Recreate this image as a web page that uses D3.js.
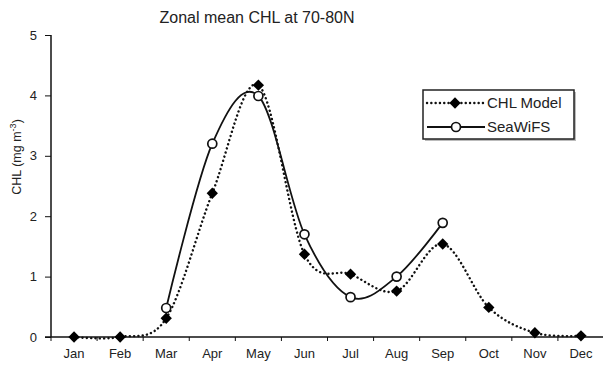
<!DOCTYPE html>
<html><head><meta charset="utf-8">
<script src="https://cdn.jsdelivr.net/npm/d3@7"></script>
<style>
html,body{margin:0;padding:0;background:#fff;}
svg{display:block;font-family:"Liberation Sans",Arial,sans-serif;}
</style></head>
<body>
<svg id="c" width="603" height="366"></svg>
<script>
const months = ["Jan","Feb","Mar","Apr","May","Jun","Jul","Aug","Sep","Oct","Nov","Dec"];
const chlModel = [0, 0, 0.31, 2.38, 4.17, 1.37, 1.04, 0.76, 1.54, 0.49, 0.07, 0.02];
const seaWiFS = [null, null, 0.48, 3.2, 3.99, 1.7, 0.66, 1.0, 1.89, null, null, null];
const yTicks = [0, 1, 2, 3, 4, 5];
const title = "Zonal mean CHL at 70-80N";
const seriesNames = ["CHL Model", "SeaWiFS"];

const svg = d3.select("#c");
const x = d3.scaleBand().domain(months).range([51, 604]);
const y = d3.scaleLinear().domain([0, 5]).range([337, 35]);

// title
svg.append("text").attr("x", 257).attr("y", 23).attr("text-anchor", "middle")
  .attr("font-size", 16).attr("fill", "#222").text(title);

// y axis
const yAxis = d3.axisLeft(y).tickValues(yTicks).tickSize(6).tickPadding(8).tickFormat(d3.format("d"));
const gy = svg.append("g").attr("transform", "translate(51,0)").call(yAxis);
gy.select(".domain").attr("stroke", "#111").attr("stroke-width", 1.5).attr("d", "M0,35V337");
gy.selectAll(".tick line").attr("stroke", "#111").attr("stroke-width", 1);
gy.selectAll(".tick text").attr("font-size", 13).attr("fill", "#222").attr("font-family", "Liberation Sans, Arial, sans-serif");

// x axis
const xAxis = d3.axisBottom(x).tickSize(0).tickPadding(12);
const gx = svg.append("g").attr("transform", "translate(0,337)").call(xAxis);
gx.select(".domain").attr("stroke", "#111").attr("stroke-width", 1.5).attr("d", "M45,0H603");
gx.selectAll(".tick text").attr("font-size", 13).attr("fill", "#222").attr("font-family", "Liberation Sans, Arial, sans-serif");
// band boundary ticks
gx.selectAll("line.bt").data(months).enter().append("line").attr("class", "bt")
  .attr("x1", d => x(d)).attr("x2", d => x(d)).attr("y1", 0).attr("y2", 4)
  .attr("stroke", "#111").attr("stroke-width", 1);

// y axis title
const yt = svg.append("text").attr("transform", "translate(21,157) rotate(-90)")
  .attr("text-anchor", "middle").attr("font-size", 12.5).attr("fill", "#222");
yt.append("tspan").text("CHL  (mg m");
yt.append("tspan").attr("dy", -5).attr("font-size", 9).text("-3");
yt.append("tspan").attr("dy", 5).text(")");

const cx = i => x(months[i]) + x.bandwidth() / 2;
const curve = d3.curveCardinal.tension(0);

// CHL model line (dotted)
const lineM = d3.line().x((d, i) => cx(i)).y(d => y(d)).curve(curve);
svg.append("path").attr("d", lineM(chlModel)).attr("fill", "none")
  .attr("stroke", "#111").attr("stroke-width", 2.4)
  .attr("stroke-dasharray", "0.1,4.2").attr("stroke-linecap", "round");

// SeaWiFS line (solid)
const swPts = seaWiFS.map((v, i) => [i, v]).filter(d => d[1] !== null);
const lineS = d3.line().x(d => cx(d[0])).y(d => y(d[1])).curve(curve);
svg.append("path").attr("d", lineS(swPts)).attr("fill", "none")
  .attr("stroke", "#111").attr("stroke-width", 1.8);

// diamonds
const sq = d3.symbol().type(d3.symbolSquare).size(64);
svg.selectAll("path.dm").data(chlModel).enter().append("path").attr("class", "dm")
  .attr("transform", (d, i) => `translate(${cx(i)},${y(d)}) rotate(45)`)
  .attr("d", sq).attr("fill", "#000");

// circles
svg.selectAll("circle.sw").data(swPts).enter().append("circle").attr("class", "sw")
  .attr("cx", d => cx(d[0])).attr("cy", d => y(d[1])).attr("r", 4.5)
  .attr("fill", "#fff").attr("stroke", "#111").attr("stroke-width", 1.7);

// legend
const lg = svg.append("g");
lg.append("rect").attr("x", 425).attr("y", 92).attr("width", 151).attr("height", 49).attr("fill", "#bbb");
lg.append("rect").attr("x", 423).attr("y", 90).attr("width", 151).attr("height", 49)
  .attr("fill", "#fff").attr("stroke", "#222").attr("stroke-width", 1.5);
lg.append("line").attr("x1", 427).attr("x2", 485).attr("y1", 103).attr("y2", 103)
  .attr("stroke", "#111").attr("stroke-width", 2.4).attr("stroke-dasharray", "0.1,4.2").attr("stroke-linecap", "round");
lg.append("path").attr("transform", "translate(455,103) rotate(45)")
  .attr("d", sq).attr("fill", "#000");
lg.append("line").attr("x1", 427).attr("x2", 485).attr("y1", 127).attr("y2", 127)
  .attr("stroke", "#111").attr("stroke-width", 1.8);
lg.append("circle").attr("cx", 456).attr("cy", 127).attr("r", 4.5)
  .attr("fill", "#fff").attr("stroke", "#111").attr("stroke-width", 1.7);
lg.selectAll("text.lt").data(seriesNames).enter().append("text").attr("class", "lt")
  .attr("x", 487).attr("y", (d, i) => 108 + i * 24).attr("font-size", 15).attr("fill", "#222").text(d => d);
</script>
</body></html>
